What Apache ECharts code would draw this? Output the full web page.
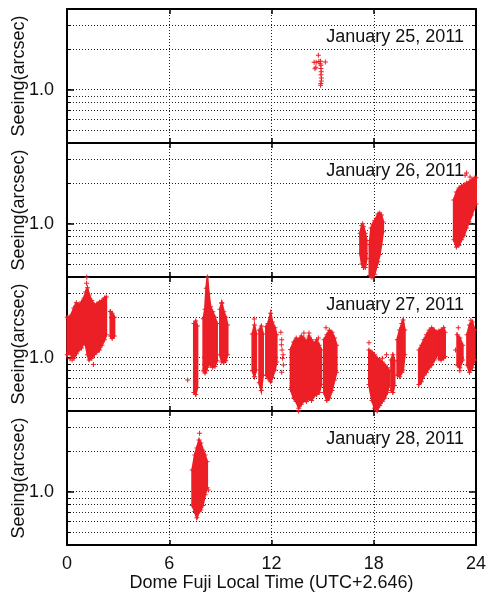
<!DOCTYPE html>
<html><head><meta charset="utf-8">
<script src="https://cdn.jsdelivr.net/npm/echarts@6/dist/echarts.min.js"></script>
<style>html,body{margin:0;padding:0;background:#fff}#c{width:489px;height:594px}</style>
</head><body><div id="c"></div>
<script>
// ---- tick / label data ----
const dayLabels = ['January 25, 2011', 'January 26, 2011', 'January 27, 2011', 'January 28, 2011'];
const xTickInterval = 6;
const xMin = 0, xMax = 24;
const yMin = 0.4, yMax = 4;
const yMinorTicks = [0.5, 0.6, 0.7, 0.8, 0.9, 2, 3];
const yMajorTicks = [1];
const yGridValues = [0.5, 0.6, 0.7, 0.8, 0.9, 1, 2, 3];

// ---- seeing data: isolated points [hour, arcsec] ----
const jan25Points = [[14.75,1.81],[14.5,1.60],[14.62,1.60],[14.78,1.62],[14.88,1.63],[15.16,1.61],[14.55,1.43],[14.6,1.47],[14.9,1.52],[14.9,1.44],[14.92,1.36],[14.9,1.29],[14.93,1.22],[14.92,1.16],[14.9,1.11],[14.88,1.08],[14.85,1.56]];
const jan26Points = [[23.36,2.30],[23.45,2.39],[23.65,2.23],[17.35,1.0]];
const jan27Points = [[1.16,3.98],[1.15,3.6],[0.18,0.98],[1.55,0.89],[0.3,0.96],[7.08,0.68],[9.08,2.55],[10.99,1.94],[12.55,1.55],[12.6,1.36],[12.62,1.14],[12.65,0.99],[12.7,0.88],[12.6,0.78],[12.58,1.25],[12.68,1.05],[13.9,1.53],[14.2,1.53],[14.75,1.40],[13.58,0.40],[15.2,1.67],[17.72,1.29],[18.5,0.99],[18.75,1.05],[18.2,0.38],[22.96,1.67],[22.8,1.14],[23.05,0.80],[23.7,1.9]];
const jan28Points = [[7.78,2.73],[8.29,1.03]];

// ---- dense clusters: [hour, lowest arcsec, highest arcsec] ----
const jan25Clusters = [];
const jan26Clusters = [
  [[17.2,0.60,0.85],[17.3,0.50,0.97],[17.4,0.47,0.95],[17.5,0.47,0.85],[17.58,0.55,0.75]],
  [[17.75,0.41,0.70],[17.85,0.40,0.93],[17.95,0.40,0.99],[18.05,0.42,1.05],[18.15,0.47,1.10],[18.25,0.52,1.18],[18.35,0.59,1.20],[18.45,0.70,1.16],[18.55,0.87,1.03]],
  [[22.7,0.76,1.50],[22.85,0.67,1.72],[23.0,0.69,1.85],[23.15,0.76,1.91],[23.3,0.82,1.94],[23.45,0.93,2.01],[23.6,1.03,2.05],[23.75,1.16,2.12],[23.9,1.31,2.19],[24.0,1.40,2.20]]
];
const jan27Clusters = [
  [[0.02,1.05,2.0],[0.1,1.10,1.98],[0.25,1.05,2.08],[0.4,0.99,2.35],[0.55,1.07,2.57],[0.7,1.14,2.48],[0.85,1.18,2.60],[1.0,1.31,2.79],[1.1,1.24,3.09],[1.2,1.05,3.32],[1.3,0.96,2.93],[1.45,0.99,2.67],[1.6,1.05,2.48],[1.75,1.10,2.52],[1.9,1.14,2.60],[2.05,1.24,2.67],[2.2,1.36,2.79],[2.3,1.48,2.84]],
  [[2.55,1.45,2.21],[2.65,1.39,2.15],[2.78,1.45,2.0]],
  [[7.45,0.55,1.80],[7.55,0.53,1.88],[7.65,0.60,1.72]],
  [[8.0,0.80,1.95],[8.1,0.77,2.3],[8.17,0.80,3.3],[8.24,0.85,4.0],[8.32,0.90,3.0],[8.42,0.88,2.4],[8.55,0.85,2.2],[8.68,0.86,2.0],[8.8,0.95,1.8]],
  [[8.98,1.05,2.3],[9.08,0.93,2.57],[9.2,0.92,2.2],[9.32,0.95,2.0],[9.42,1.05,1.75]],
  [[10.88,0.80,1.50],[11.0,0.72,1.75],[11.1,0.81,1.50]],
  [[11.28,0.65,1.60],[11.4,0.57,1.72],[11.5,0.74,1.50]],
  [[11.68,0.74,1.70],[11.8,0.70,1.80],[11.95,0.66,2.15],[12.05,0.71,1.85],[12.2,0.81,1.67],[12.3,0.93,1.48]],
  [[13.12,0.58,1.15],[13.3,0.50,1.31],[13.45,0.47,1.40],[13.6,0.42,1.36],[13.75,0.45,1.45],[13.9,0.48,1.40],[14.05,0.47,1.31],[14.2,0.50,1.45],[14.35,0.48,1.36],[14.5,0.52,1.27],[14.65,0.53,1.36],[14.8,0.55,1.24],[14.92,0.63,1.14]],
  [[15.08,0.55,1.36],[15.25,0.48,1.48],[15.4,0.50,1.60],[15.55,0.57,1.55],[15.7,0.68,1.40],[15.82,0.78,1.24]],
  [[17.72,0.63,1.14],[17.9,0.48,1.10],[18.05,0.42,1.05],[18.2,0.40,0.99],[18.35,0.44,0.96],[18.5,0.47,0.93],[18.65,0.50,0.88],[18.8,0.55,0.84],[18.9,0.62,0.80]],
  [[19.02,0.57,0.96],[19.12,0.55,1.05],[19.22,0.62,0.95]],
  [[19.38,0.74,1.36],[19.52,0.72,1.61],[19.65,0.78,1.80],[19.72,0.81,1.91],[19.82,1.05,1.61]],
  [[20.65,0.63,1.14],[20.8,0.66,1.24],[20.95,0.74,1.36],[21.1,0.78,1.48],[21.25,0.84,1.60],[21.4,0.88,1.67],[21.55,0.96,1.61],[21.72,1.05,1.55]],
  [[21.82,0.98,1.58],[21.95,0.96,1.61],[22.1,0.99,1.67],[22.18,1.02,1.55]],
  [[22.9,0.88,1.48],[23.05,0.84,1.40],[23.22,0.96,1.24]],
  [[23.48,0.88,1.48],[23.62,0.78,1.75],[23.78,0.84,1.85],[23.92,0.96,1.61]]
];
const jan28Clusters = [
  [[7.35,0.79,1.45],[7.5,0.71,1.88],[7.62,0.64,2.12],[7.75,0.71,2.43],[7.85,0.73,2.31],[7.97,0.79,2.05],[8.1,0.95,1.88],[8.22,1.07,1.67]]
];

const pointsByDay = [jan25Points, jan26Points, jan27Points, jan28Points];
const clustersByDay = [jan25Clusters, jan26Clusters, jan27Clusters, jan28Clusters];

// ---- styling ----
const RED = '#ec1f26';
const FONT = 'Liberation Sans';
const PLUS = 'path://M-1,-5L1,-5L1,-1L5,-1L5,1L1,1L1,5L-1,5L-1,1L-5,1L-5,-1L-1,-1Z';
const gridLeft = 67, gridRight = 13, gridTop = 9, panelH = 134;
const axisLine = { show: true, lineStyle: { color: '#000', width: 2 } };
const dotted = { show: true, lineStyle: { color: '#222', width: 1, type: [1, 2] } };

const grids = [], xAxes = [], yAxes = [], series = [], graphics = [];
for (let i = 0; i < 4; i++) {
  grids.push({ left: gridLeft, right: gridRight, top: gridTop + panelH * i, height: panelH, containLabel: false, outerBoundsMode: 'none' });
  const last = i === 3;
  xAxes.push({
    type: 'value', gridIndex: i, min: xMin, max: xMax, interval: xTickInterval, position: 'bottom',
    axisLine, axisTick: { show: true, inside: true, length: 5, lineStyle: { color: '#000', width: 1.5 } },
    axisLabel: { show: last, fontSize: 18, fontFamily: FONT, color: '#111', margin: 10 },
    splitLine: dotted,
    name: last ? 'Dome Fuji Local Time (UTC+2.646)' : '', nameLocation: 'middle', nameGap: 29, nameMoveOverlap: false,
    nameTextStyle: { fontSize: 18, fontFamily: FONT, color: '#111' }
  });
  xAxes.push({
    type: 'value', gridIndex: i, min: xMin, max: xMax, interval: xTickInterval, position: 'top',
    axisLine, axisTick: { show: true, inside: true, length: 5, lineStyle: { color: '#000', width: 1.5 } },
    axisLabel: { show: false }, splitLine: { show: false }
  });
  yAxes.push({
    type: 'log', logBase: 10, gridIndex: i, min: yMin, max: yMax, position: 'left',
    axisLine, axisTick: { show: true, inside: true, length: 4, customValues: yGridValues, lineStyle: { color: '#000', width: 1 } },
    axisLabel: { show: true, customValues: yMajorTicks, formatter: v => Number(v).toFixed(1), fontSize: 18, fontFamily: FONT, color: '#111', margin: 13 },
    splitLine: dotted, minorTick: { show: false },
    name: 'Seeing(arcsec)', nameLocation: 'middle', nameGap: 39, nameRotate: 90, nameMoveOverlap: false,
    nameTextStyle: { fontSize: 18, fontFamily: FONT, color: '#111' }
  });
  yAxes.push({
    type: 'log', logBase: 10, gridIndex: i, min: yMin, max: yMax, position: 'left',
    axisLine: { show: false }, axisTick: { show: true, inside: true, length: 7, customValues: yMajorTicks, lineStyle: { color: '#000', width: 1.5 } },
    axisLabel: { show: false }, splitLine: { show: false }
  });
  yAxes.push({
    type: 'log', logBase: 10, gridIndex: i, min: yMin, max: yMax, position: 'right',
    axisLine, axisTick: { show: true, inside: true, length: 4, customValues: yMinorTicks, lineStyle: { color: '#000', width: 1 } },
    axisLabel: { show: false }, splitLine: { show: false }
  });
  yAxes.push({
    type: 'log', logBase: 10, gridIndex: i, min: yMin, max: yMax, position: 'right',
    axisLine: { show: false }, axisTick: { show: true, inside: true, length: 7, customValues: yMajorTicks, lineStyle: { color: '#000', width: 1.5 } },
    axisLabel: { show: false }, splitLine: { show: false }
  });

  const clusters = clustersByDay[i];
  const xi = i * 2, yi = i * 4;
  if (clusters.length) {
    series.push({
      type: 'custom', xAxisIndex: xi, yAxisIndex: yi, z: 3, silent: true,
      data: clusters.map((c, k) => [c[0][0], c[0][2], k]),
      encode: { x: 0, y: 1 },
      renderItem: function (params, api) {
        const band = clusters[params.dataIndex];
        const pts = [];
        for (let k = 0; k < band.length; k++) pts.push(api.coord([band[k][0], band[k][2]]));
        for (let k = band.length - 1; k >= 0; k--) pts.push(api.coord([band[k][0], band[k][1]]));
        return { type: 'polygon', shape: { points: pts }, style: { fill: RED, stroke: RED, lineWidth: 2 } };
      }
    });
  }
  const pts = pointsByDay[i].slice();
  clusters.forEach(c => c.forEach(b => { pts.push([b[0], b[1]]); pts.push([b[0], b[2]]); }));
  series.push({
    type: 'scatter', xAxisIndex: xi, yAxisIndex: yi, z: 4, silent: true,
    symbol: PLUS, symbolSize: 5, itemStyle: { color: RED, opacity: 1 },
    data: pts
  });

  graphics.push({
    type: 'text', x: 464, y: gridTop + panelH * i + 28, z: 10,
    style: { text: dayLabels[i], textAlign: 'right', textVerticalAlign: 'middle', font: '18px "' + FONT + '"', fill: '#111' }
  });
}

const chart = echarts.init(document.getElementById('c'), null, { renderer: 'canvas' });
chart.setOption({
  animation: false,
  backgroundColor: '#fff',
  grid: grids, xAxis: xAxes, yAxis: yAxes, series, graphic: graphics
});
</script></body></html>
